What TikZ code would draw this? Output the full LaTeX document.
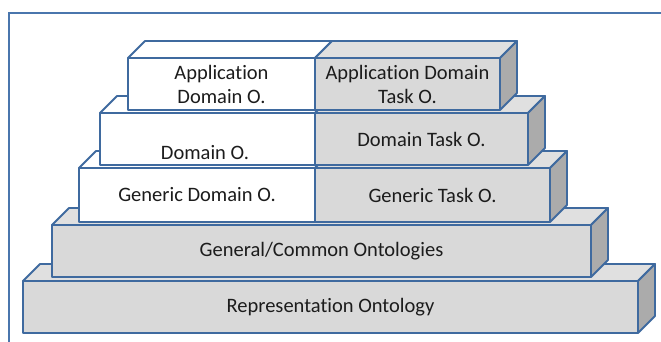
\documentclass[tikz,border=0pt]{standalone}
\usepackage{fontspec}
\setmainfont{Carlito}[Ligatures={NoCommon}]
\definecolor{edge}{HTML}{3F6A9F}
\definecolor{framecol}{HTML}{4A76AD}
\definecolor{grayfront}{HTML}{D9D9D9}
\definecolor{graytop}{HTML}{E0E0E0}
\definecolor{grayside}{HTML}{ABABAB}
\definecolor{txt}{HTML}{1C1C1C}
% top face and right side face of a block whose front face is node #1
\newcommand\blocktop[2]{\filldraw[#2] (#1.north west) -- ++(17,-17) -- ([shift={(17pt,17pt)}]#1.north east) -- (#1.north east) -- cycle;}
\newcommand\blockside[2]{\filldraw[#2] (#1.north east) -- ([shift={(17pt,17pt)}]#1.north east) -- ([shift={(17pt,17pt)}]#1.south east) -- (#1.south east) -- cycle;}
\begin{document}
\begin{tikzpicture}[x=1pt,y=-1pt,
  outline/.style={draw=edge, line width=1.8pt, line join=round},
  face/.style={outline, rectangle, inner sep=0pt, outer sep=0pt, align=center,
    font=\fontsize{20.5}{24}\selectfont, text=txt},
  whitebox/.style={face, fill=white},
  graybox/.style={face, fill=grayfront},
  topw/.style={outline, fill=white},
  topg/.style={outline, fill=graytop},
  sideg/.style={outline, fill=grayside},
  label/.style={font=\fontsize{20.5}{24}\selectfont, text=txt, inner sep=0pt}]
\useasboundingbox (0,0) rectangle (661,341);
% outer frame
\draw[framecol, line width=1.8pt] (9,345) -- (9,13) -- (665,13);

% bottom layer
\node[graybox, minimum width=615pt, minimum height=52pt] (rep) at (330.5,307) {Representation Ontology};
\blocktop{rep}{topg}
\blockside{rep}{sideg}

% second layer
\node[graybox, minimum width=539pt, minimum height=52pt] (gen) at (321.5,251) {General/Common Ontologies};
\blocktop{gen}{topg}
\blockside{gen}{sideg}

% generic layer
\node[whitebox, minimum width=236pt, minimum height=54pt] (gdo) at (197,195) {Generic Domain O.};
\blocktop{gdo}{topw}
\node[graybox, minimum width=235pt, minimum height=54pt] (gto) at (432.5,195) {Generic Task O.};
\blocktop{gto}{topg}
\blockside{gto}{sideg}

% domain layer
\node[whitebox, minimum width=215pt, minimum height=52pt] (dom) at (207.5,139) {};
\node[label] (domtext) at ([shift={(-2.5pt,-14pt)}]dom.center) {Domain O.};
\blocktop{dom}{topw}
\node[graybox, minimum width=213pt, minimum height=52pt] (dto) at (421.5,139) {Domain Task O.};
\blocktop{dto}{topg}
\blockside{dto}{sideg}

% application layer
\node[whitebox, minimum width=187pt, minimum height=52pt] (ado) at (221.5,84) {Application\\Domain O.};
\blocktop{ado}{topw}
\node[graybox, minimum width=185pt, minimum height=52pt] (adt) at (407.5,84) {Application Domain\\Task O.};
\blocktop{adt}{topg}
\blockside{adt}{sideg}
\end{tikzpicture}
\end{document}
